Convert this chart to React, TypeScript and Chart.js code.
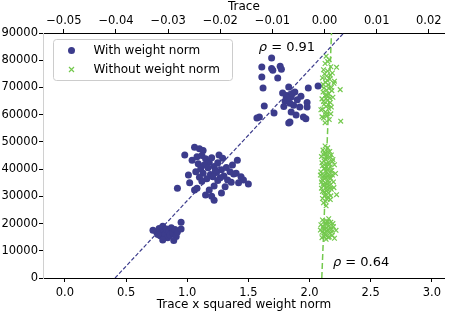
import React, { useEffect, useRef } from "react";
import { Chart, registerables } from "chart.js";
Chart.register(...registerables);

const BLUE = "#3c3c8c";
const GREEN = "#74c94e";
const FONT = "DejaVu Sans";

// With weight norm (x: Trace x squared weight norm, y)
const withNormLow: [number, number][] = [
  [0.72, 17500], [0.75, 16800], [0.77, 18200], [0.78, 15500], [0.8, 17000], [0.8, 19000],
  [0.82, 16200], [0.83, 18000], [0.84, 14800], [0.85, 17300], [0.86, 15800], [0.87, 18500],
  [0.88, 16500], [0.9, 17800], [0.91, 15200], [0.92, 16900], [0.95, 20500], [0.95, 18000],
  [0.8, 14000], [0.76, 16000], [0.89, 13800],
];
const withNormMid: [number, number][] = [
  [1.06, 48000], [1.1, 47500], [1.13, 46800], [0.98, 45200], [1.04, 43300], [1.08, 44500],
  [1.12, 45000], [1.26, 45200], [1.29, 44000], [1.41, 43300], [1.15, 43800], [1.18, 42500],
  [1.2, 44200], [1.09, 42000], [1.14, 41500], [1.22, 41000], [1.25, 42300], [1.17, 40500],
  [1.11, 40000], [1.28, 39800], [1.32, 40600], [1.35, 39000], [1.07, 39000], [1.13, 38500],
  [1.19, 38000], [1.24, 38800], [1.3, 37500], [1.38, 38200], [1.4, 38500], [1.44, 37200],
  [1.1, 37000], [1.16, 36500], [1.21, 37200], [1.27, 36800], [1.33, 36000], [1.36, 35200],
  [1.42, 35000], [1.5, 34500], [1.02, 35000], [1.12, 35500], [1.25, 35800], [1.06, 32300],
  [1.18, 32300], [1.22, 33800], [1.28, 31200], [1.15, 30500], [1.22, 28600], [1.2, 30000],
  [1.31, 33500], [1.08, 33000], [1.46, 36000], [1.37, 41500], [1.23, 39500], [1.01, 37800],
  [0.92, 33000],
];
const withNormHigh: [number, number][] = [
  [1.69, 80800], [1.61, 77500], [1.69, 77000], [1.7, 76300], [1.76, 77800], [1.77, 76700],
  [1.61, 73800], [1.74, 73500], [1.62, 69800], [1.83, 70200], [1.99, 69800], [2.07, 70500],
  [1.98, 64500], [1.97, 58500], [1.78, 68000], [1.81, 67000], [1.85, 66500], [1.88, 68300],
  [1.8, 65000], [1.84, 64200], [1.9, 65500], [1.87, 63500], [1.92, 62800], [1.79, 63000],
  [1.82, 66000], [1.86, 67800], [1.63, 63200], [1.71, 60600], [1.59, 59100], [1.85, 61000],
  [1.89, 59900], [1.95, 59100], [1.84, 57300], [1.83, 56900], [1.98, 62800], [1.57, 58800],
  [1.93, 66800],
];

// Without weight norm (x: Trace, y)
const withoutNormHigh: [number, number][] = [
  [0.0003, 81500], [0.0009, 80200], [0.0001, 78800], [0.0012, 77600], [0.0023, 77400],
  [-0.0002, 76500], [0.0006, 76000], [0.0015, 75300], [0.0004, 74200], [-0.0004, 73500],
  [0.001, 73000], [0.0019, 72300], [0.0002, 71800], [0.0007, 71000], [-0.0006, 70400],
  [0.0013, 70000], [0.003, 69200], [0.0004, 69000], [-0.0003, 68300], [0.0008, 67700],
  [0.0001, 67000], [0.0016, 66400], [-0.0005, 65800], [0.0005, 65200], [0.0011, 64500],
  [-0.0001, 63800], [0.0003, 63000], [0.0008, 62300], [-0.0007, 61800], [0.0002, 61000],
  [0.0012, 60300], [0.0005, 59600], [-0.0002, 58800], [0.0009, 58200], [0.0031, 57600],
  [0.0001, 57000], [-0.0004, 62000], [0.0014, 68800], [0.0006, 79500], [0.0018, 71500],
  [0.0, 75000], [0.0011, 74600], [-0.0003, 71200], [0.0004, 67200], [0.001, 66000],
  [-0.0002, 64800], [0.0007, 63600], [0.0002, 60000], [-0.0005, 59200], [0.0013, 62800],
  [0.0005, 72600], [0.0008, 69700], [-0.0001, 69800], [0.0003, 65900],
];
const withoutNormMid: [number, number][] = [
  [0.0001, 48500], [0.0006, 47800], [-0.0003, 47000], [0.001, 46500], [0.0002, 45800],
  [0.0013, 45200], [-0.0006, 44600], [0.0005, 44000], [0.0016, 43500], [-0.0001, 43000],
  [0.0008, 42500], [0.0003, 42000], [0.0019, 41600], [-0.0004, 41200], [0.0011, 40800],
  [0.0, 40300], [0.0006, 39900], [0.0014, 39500], [-0.0007, 39000], [0.0004, 38600],
  [0.0021, 38400], [0.0009, 38000], [-0.0002, 37500], [0.0002, 37000], [0.0012, 36600],
  [-0.0005, 36200], [0.0007, 35800], [0.0017, 35300], [0.0001, 34900], [-0.0003, 34400],
  [0.001, 34000], [0.0005, 33500], [-0.0006, 33000], [0.0013, 32600], [0.0003, 32100],
  [-0.0001, 31600], [0.0008, 31200], [0.0023, 30600], [0.0, 30200], [0.0006, 29700],
  [-0.0004, 29200], [0.0011, 28800], [0.0002, 28200], [-0.0002, 27600], [0.0004, 44800],
  [0.0015, 42800], [-0.0008, 37800], [0.0009, 36900], [0.0018, 33200], [0.0003, 26500],
  [0.0007, 46200], [-0.0002, 45400], [0.0011, 44300], [0.0001, 43700], [-0.0005, 42300],
  [0.0009, 41800], [0.0004, 40900], [-0.0001, 40100], [0.0012, 39300], [0.0003, 39200],
  [-0.0004, 38200], [0.0007, 37300], [0.0015, 37800], [0.0, 36400], [-0.0006, 35300],
  [0.0009, 35000], [0.0004, 34600], [-0.0002, 33800], [0.0011, 33000], [0.0006, 32400],
  [-0.0004, 31800], [0.0002, 30700], [0.0012, 30200], [0.0005, 28900], [-0.0001, 46200],
];
const withoutNormLow: [number, number][] = [
  [-0.0004, 21300], [0.0006, 20800], [0.0012, 20500], [0.0001, 20000], [-0.0007, 19600],
  [0.0009, 19200], [0.0017, 18900], [0.0003, 18500], [-0.0002, 18100], [0.0013, 17800],
  [0.0022, 17500], [0.0005, 17200], [-0.0005, 16800], [0.001, 16400], [0.0001, 16000],
  [0.0015, 15700], [-0.0001, 15300], [0.0007, 14900], [0.0019, 14600], [0.0003, 14200],
  [-0.0008, 17600], [0.0008, 21800], [0.0004, 19800], [-0.0003, 19000], [0.0011, 18300],
  [0.0006, 17700], [-0.0001, 16500], [0.0014, 16900], [0.0002, 15600], [0.0009, 15100],
  [-0.0005, 14800], [0.0004, 20600], [0.0016, 20000],
];

// Fit lines
const fitWith: [number, number][] = [[0.41, 0], [2.28, 90000]];
const fitWithout: [number, number][] = [[-0.00053, 0], [0.00133, 90000]];

// Axes
const bottomTicks = [0, 0.5, 1, 1.5, 2, 2.5, 3];
const topTicks = [-0.05, -0.04, -0.03, -0.02, -0.01, 0, 0.01, 0.02];
const yTicks = [0, 10000, 20000, 30000, 40000, 50000, 60000, 70000, 80000, 90000];
const X_RANGE = [-0.179, 3.106];
const X2_RANGE = [-0.054, 0.02306];
const Y_RANGE = [0, 90000];

const legendLabels = ["With weight norm", "Without weight norm"];
const rhoLabels = [
  { text: "0.91", axis: "x", x: 1.585, y: 84700 },
  { text: "0.64", axis: "x2", x: 0.0016, y: 5800 },
];

const toPts = (arr: [number, number][]) => arr.map(([x, y]) => ({ x, y }));

const fmtTop = (v: number) => {
  const r = Math.round(v * 100) / 100;
  if (Math.abs(r) < 1e-9) return "0.00";
  return r < 0 ? "\u2212" + Math.abs(r).toFixed(2) : r.toFixed(2);
};

const overlay = {
  id: "overlay",
  afterDraw(chart: any) {
    const ctx = chart.ctx as CanvasRenderingContext2D;
    const area = chart.chartArea;
    ctx.save();
    // legend box
    const bx = area.left + 10.5, by = area.top + 6.5, bw = 179, bh = 41, r = 3;
    ctx.beginPath();
    ctx.moveTo(bx + r, by);
    ctx.lineTo(bx + bw - r, by);
    ctx.arcTo(bx + bw, by, bx + bw, by + r, r);
    ctx.lineTo(bx + bw, by + bh - r);
    ctx.arcTo(bx + bw, by + bh, bx + bw - r, by + bh, r);
    ctx.lineTo(bx + r, by + bh);
    ctx.arcTo(bx, by + bh, bx, by + bh - r, r);
    ctx.lineTo(bx, by + r);
    ctx.arcTo(bx, by, bx + r, by, r);
    ctx.closePath();
    ctx.fillStyle = "rgba(255,255,255,0.8)";
    ctx.fill();
    ctx.strokeStyle = "#cccccc";
    ctx.lineWidth = 1;
    ctx.stroke();

    const mx = bx + 18;
    const y1 = by + 11, y2 = by + 30;
    ctx.fillStyle = BLUE;
    ctx.beginPath();
    ctx.arc(mx, y1, 3.5, 0, Math.PI * 2);
    ctx.fill();
    ctx.strokeStyle = GREEN;
    ctx.lineWidth = 1.2;
    ctx.beginPath();
    ctx.moveTo(mx - 2.5, y2 - 2.5);
    ctx.lineTo(mx + 2.5, y2 + 2.5);
    ctx.moveTo(mx + 2.5, y2 - 2.5);
    ctx.lineTo(mx - 2.5, y2 + 2.5);
    ctx.stroke();

    ctx.fillStyle = "#000";
    ctx.font = `12px "${FONT}"`;
    ctx.textBaseline = "middle";
    ctx.textAlign = "left";
    ctx.fillText(legendLabels[0], bx + 40, y1);
    ctx.fillText(legendLabels[1], bx + 40, y2);

    // rho annotations
    for (const a of rhoLabels) {
      const px = chart.scales[a.axis].getPixelForValue(a.x);
      const py = chart.scales.y.getPixelForValue(a.y);
      ctx.font = `italic 13px "${FONT}"`;
      ctx.fillText("\u03c1", px, py);
      const w = ctx.measureText("\u03c1").width;
      ctx.font = `13px "${FONT}"`;
      ctx.fillText(" = " + a.text, px + w, py);
    }
    ctx.restore();
  },
};

export default function App() {
  const ref = useRef<HTMLCanvasElement>(null);
  useEffect(() => {
    if (!ref.current) return;
    Chart.defaults.font.family = FONT;
    const tickFont = { size: 11.5, family: FONT };
    const chart = new Chart(ref.current, {
      type: "scatter",
      data: {
        datasets: [
          {
            label: "fit with",
            data: toPts(fitWith),
            showLine: true,
            pointRadius: 0,
            borderColor: BLUE,
            borderWidth: 1.2,
            borderDash: [4, 2],
            xAxisID: "x",
            yAxisID: "y",
          },
          {
            label: "fit without",
            data: toPts(fitWithout),
            showLine: true,
            pointRadius: 0,
            borderColor: GREEN,
            borderWidth: 1.5,
            borderDash: [6, 3],
            xAxisID: "x2",
            yAxisID: "y",
          },
          {
            label: legendLabels[0],
            data: [...toPts(withNormLow), ...toPts(withNormMid), ...toPts(withNormHigh)],
            backgroundColor: BLUE,
            borderWidth: 0,
            pointRadius: 3.5,
            xAxisID: "x",
            yAxisID: "y",
          },
          {
            label: legendLabels[1],
            data: [...toPts(withoutNormHigh), ...toPts(withoutNormMid), ...toPts(withoutNormLow)],
            pointStyle: "crossRot",
            borderColor: GREEN,
            backgroundColor: GREEN,
            borderWidth: 1.2,
            pointRadius: 3.3,
            xAxisID: "x2",
            yAxisID: "y",
          },
        ],
      },
      options: {
        animation: false,
        responsive: false,
        devicePixelRatio: 1,
        layout: { padding: { left: 0, right: 3, top: 0, bottom: 0 } },
        plugins: { legend: { display: false }, tooltip: { enabled: false } },
        scales: {
          x: {
            type: "linear",
            position: "bottom",
            bounds: "data",
            min: X_RANGE[0],
            max: X_RANGE[1],
            afterBuildTicks: (s: any) => {
              s.ticks = bottomTicks.map((v) => ({ value: v }));
            },
            afterFit: (s: any) => {
              s.height = 34;
            },
            grid: { display: true, drawOnChartArea: false, drawTicks: true, tickLength: 4, tickColor: "#000", tickWidth: 1 },
            border: { display: true, color: "#000", width: 1 },
            ticks: { color: "#000", padding: 4, font: tickFont, maxRotation: 0, autoSkip: false, callback: (v: any) => Number(v).toFixed(1) },
            title: { display: true, text: "Trace x squared weight norm", color: "#000", font: { size: 12, family: FONT }, padding: { top: 0, bottom: 0 } },
          },
          x2: {
            type: "linear",
            position: "top",
            bounds: "data",
            min: X2_RANGE[0],
            max: X2_RANGE[1],
            afterBuildTicks: (s: any) => {
              s.ticks = topTicks.map((v) => ({ value: v }));
            },
            afterFit: (s: any) => {
              s.height = 33;
            },
            grid: { display: true, drawOnChartArea: false, drawTicks: true, tickLength: 4, tickColor: "#000", tickWidth: 1 },
            border: { display: true, color: "#000", width: 1 },
            ticks: { color: "#000", padding: 1, font: tickFont, maxRotation: 0, autoSkip: false, callback: (v: any) => fmtTop(Number(v)) },
            title: { display: true, text: "Trace", color: "#000", font: { size: 12, family: FONT }, padding: { top: 0, bottom: 0 } },
          },
          y: {
            type: "linear",
            position: "left",
            bounds: "data",
            min: Y_RANGE[0],
            max: Y_RANGE[1],
            afterBuildTicks: (s: any) => {
              s.ticks = yTicks.map((v) => ({ value: v }));
            },
            afterFit: (s: any) => {
              s.width = 43;
            },
            grid: { display: true, drawOnChartArea: false, drawTicks: true, tickLength: 4, tickColor: "#000", tickWidth: 1 },
            border: { display: true, color: "#d0d0d0", width: 1 },
            ticks: { color: "#000", padding: 1, font: tickFont, autoSkip: false, callback: (v: any) => String(Math.round(Number(v))) },
          },
        },
      },
      plugins: [overlay],
    } as any);
    return () => chart.destroy();
  }, []);
  return (
    <div style={{ position: "absolute", left: 0, top: 0, width: 450, height: 312, background: "#fff" }}>
      <canvas ref={ref} width={450} height={312} style={{ display: "block" }} />
    </div>
  );
}
